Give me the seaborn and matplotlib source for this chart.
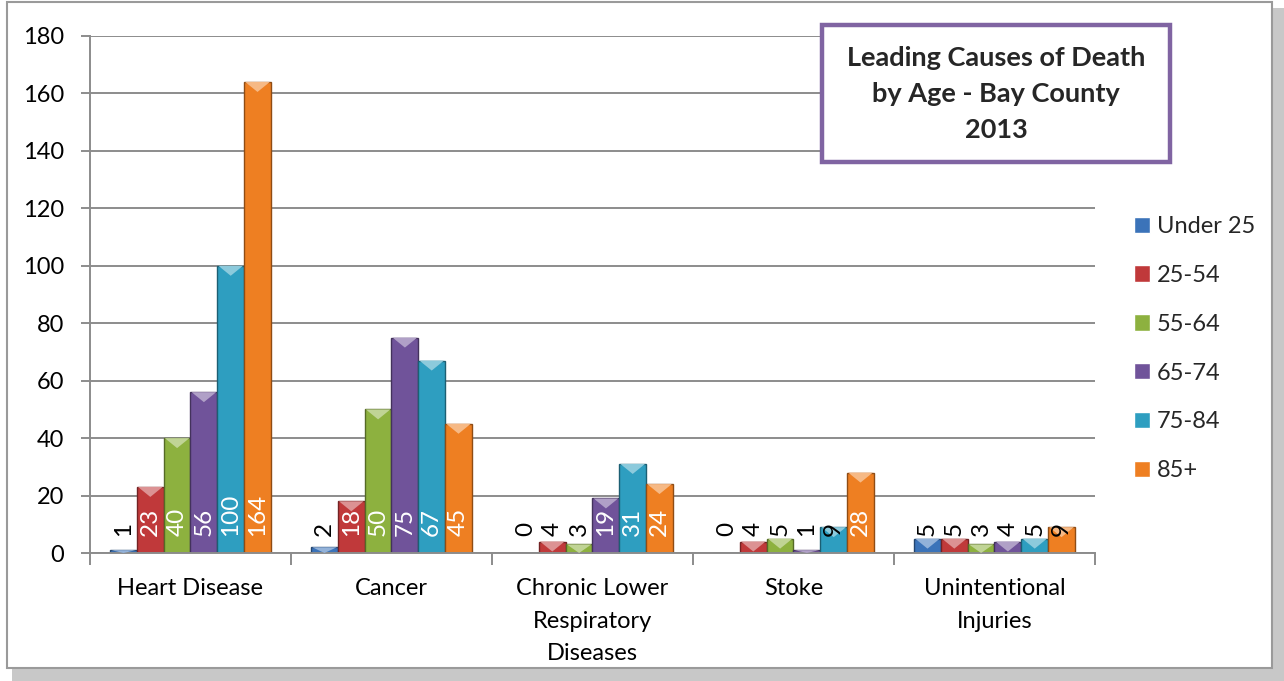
import pandas as pd
import matplotlib.pyplot as plt
import seaborn as sns
from matplotlib.patches import Rectangle, Polygon
import matplotlib.colors as mcolors

sns.set_theme(style="white")
plt.rcParams['font.family'] = ['Lato', 'DejaVu Sans']

# Data
causes = ['Heart Disease', 'Cancer', 'Chronic Lower\nRespiratory\nDiseases',
          'Stoke', 'Unintentional\nInjuries']
age_groups = ['Under 25', '25-54', '55-64', '65-74', '75-84', '85+']
under_25 = [1, 2, 0, 0, 5]
age_25_54 = [23, 18, 4, 4, 5]
age_55_64 = [40, 50, 3, 5, 3]
age_65_74 = [56, 75, 19, 1, 4]
age_75_84 = [100, 67, 31, 9, 5]
age_85_plus = [164, 45, 24, 28, 9]
colors = ['#3B73B9', '#C0393A', '#8DB13F', '#70539A', '#2E9EC0', '#EE7F22']

series = [under_25, age_25_54, age_55_64, age_65_74, age_75_84, age_85_plus]
rows = []
for group, values in zip(age_groups, series):
    for cause, v in zip(causes, values):
        rows.append({'cause': cause, 'age': group, 'deaths': v})
df = pd.DataFrame(rows)

fig = plt.figure(figsize=(12.84, 6.81), dpi=100)
ax = fig.add_axes([90 / 1284, 1 - 553 / 681, (1095 - 90) / 1284, (553 - 36) / 681])

sns.barplot(data=df, x='cause', y='deaths', hue='age', order=causes,
            hue_order=age_groups, palette=colors, width=0.8, ax=ax,
            saturation=1, legend=True)

ax.set_ylim(0, 180)
ax.set_xlim(-0.5, len(causes) - 0.5)

# bevel look: dark outline, light wedge on top, labels inside the base
px = 180 / 517  # data units per pixel
for container, col in zip(ax.containers, colors):
    rgb = mcolors.to_rgb(col)
    dark = [c * 0.6 for c in rgb]
    light = [c + (1 - c) * 0.45 for c in rgb]
    for bar, val in zip(container, container.datavalues):
        bar.set_edgecolor(dark)
        bar.set_linewidth(1.0)
        x0 = bar.get_x()
        w = bar.get_width()
        cx = x0 + w / 2
        if val > 0:
            d = min(10 * px, val)
            ax.add_patch(Polygon([(x0 + w * 0.04, val), (x0 + w * 0.96, val), (cx, val - d)],
                                 closed=True, facecolor=light, edgecolor='none', zorder=3))
        ax.annotate(f'{int(val)}', (cx, 0), xytext=(0, 12), textcoords='offset points',
                    rotation=90, ha='center', va='bottom', fontsize=17.5, zorder=4,
                    color='white' if val >= 10 else 'black')

ax.set_yticks(range(0, 181, 20))
ax.yaxis.grid(True, color='#8c8c8c', linewidth=1.4)
ax.set_axisbelow(True)
ax.set_xlabel('')
ax.set_ylabel('')

for s in ['top', 'right']:
    ax.spines[s].set_visible(False)
for s in ['left', 'bottom']:
    ax.spines[s].set_color('#8c8c8c')
    ax.spines[s].set_linewidth(1.4)

ax.tick_params(axis='y', which='major', length=6.5, width=1.4, color='#8c8c8c',
               labelsize=17, pad=12, left=True, labelcolor='black')
ax.set_xticks(range(len(causes)))
ax.set_xticklabels(causes, fontsize=17, linespacing=1.68)
ax.tick_params(axis='x', which='major', length=0, pad=18, labelsize=17, labelcolor='black')
ax.set_xticks([i - 0.5 for i in range(len(causes) + 1)], minor=True)
ax.tick_params(axis='x', which='minor', length=8.5, width=1.4, color='#8c8c8c', bottom=True)

# legend on the right
handles, labels = ax.get_legend_handles_labels()
ax.legend(handles, labels, loc='upper left', bbox_to_anchor=(1134 / 1284, 1 - 216 / 681),
          bbox_transform=fig.transFigure, frameon=False, fontsize=17,
          handlelength=0.68, handleheight=0.68, handletextpad=0.3,
          labelspacing=1.18, borderpad=0, borderaxespad=0)

# title box
fig.patches.append(Rectangle((822 / 1284, 1 - 162 / 681), (1170 - 822) / 1284, (162 - 25) / 681,
                             transform=fig.transFigure, facecolor='white',
                             edgecolor='#8064A2', linewidth=3.2, zorder=5))
fig.text(996 / 1284, 1 - 94 / 681, 'Leading Causes of Death\nby Age - Bay County\n2013',
         ha='center', va='center', fontsize=19.5, fontweight='bold',
         linespacing=1.58, zorder=6)

# outer chart frame with shadow
fig.patches.append(Rectangle((12 / 1284, 0), 1 - 12 / 1284, 13 / 681,
                             transform=fig.transFigure, facecolor='#c8c8c8',
                             edgecolor='none', zorder=0))
fig.patches.append(Rectangle((1 - 12 / 1284, 0), 12 / 1284, 1 - 8 / 681,
                             transform=fig.transFigure, facecolor='#c8c8c8',
                             edgecolor='none', zorder=0))
fig.patches.append(Rectangle((7 / 1284, 13 / 681), 1 - 19 / 1284, 1 - 15 / 681,
                             transform=fig.transFigure, facecolor='none',
                             edgecolor='#9a9a9a', linewidth=1.5, zorder=1))

fig.savefig('out.png', dpi=100)
